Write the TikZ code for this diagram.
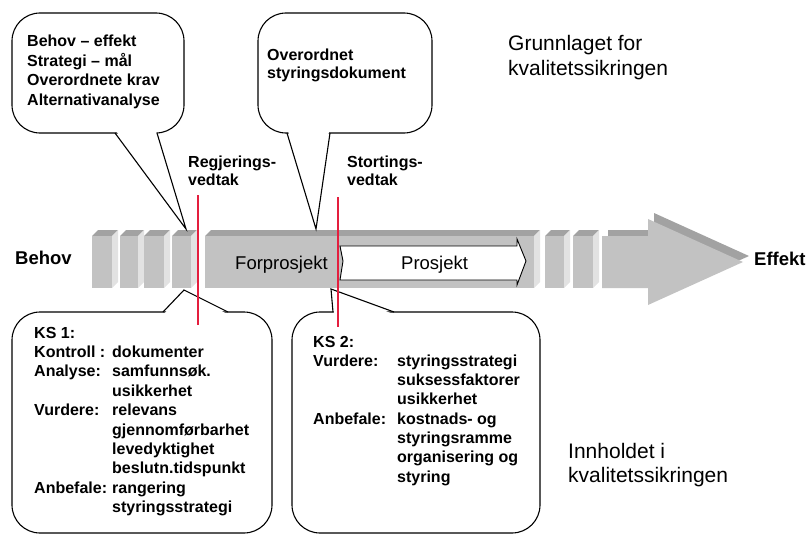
\documentclass[tikz,border=0pt]{standalone}
\usepackage{fontspec}
\setmainfont{Liberation Sans}
\definecolor{barfront}{RGB}{194,194,194}
\definecolor{bartop}{RGB}{162,162,162}
\definecolor{barside}{RGB}{226,226,226}
\definecolor{decision}{RGB}{228,30,62}
\begin{document}
\begin{tikzpicture}[x=1pt,y=-1pt,
  txt/.style={inner sep=0pt, anchor=base west, align=left},
  boldtxt/.style={txt, font=\fontsize{16}{19.4}\selectfont\bfseries},
  bigtxt/.style={txt, font=\fontsize{21}{24.5}\selectfont},
  endtxt/.style={txt, font=\fontsize{18.5}{22}\selectfont\bfseries},
  phasetxt/.style={txt, font=\fontsize{18.5}{22}\selectfont},
  bubble/.style={draw=black, line width=1.1pt, fill=white, rounded corners=28pt},
  tail/.style={draw=black, line width=1.1pt, line join=miter},
  milestone/.style={draw=decision, line width=2.6pt},
]
\useasboundingbox (0,0) rectangle (808,535);

% ---------- timeline: stacked 3D blocks ----------
\foreach \a/\b in {92/112,120/138,144/164,172/191,545/564,573/593,205/534}{
  \fill[bartop]  (\a,236) -- (\a+6,230) -- (\b+6,230) -- (\b,236) -- cycle;
  \fill[barside] (\b,236) -- (\b+6,230) -- (\b+6,282) -- (\b,288) -- cycle;
  \fill[barfront] (\a,236) rectangle (\b,288);
}

% ---------- final arrow towards "Effekt" ----------
\fill[bartop, shift={(6,-6)}]
  (602,236) -- (648,236) -- (648,219) -- (743,262) -- (648,305) -- (648,288) -- (602,288) -- cycle;
\fill[barfront]
  (602,236) -- (648,236) -- (648,219) -- (743,262) -- (648,305) -- (648,288) -- (602,288) -- cycle;

% ---------- project phase arrow ----------
\draw[fill=white, line width=0.9pt, line join=miter]
  (340,246) -- (517,246) -- (517,239) -- (526,261) -- (517,285) -- (517,280) -- (340,280) -- (343,261) -- cycle;
\node[phasetxt] (forprosjekt) at (235,269) {Forprosjekt};
\node[phasetxt] (prosjekt) at (401,269) {Prosjekt};

% ---------- end labels ----------
\node[endtxt] (behov) at (15,264) {Behov};
\node[endtxt] (effekt) at (754,265) {Effekt};

% ---------- callout tips ----------
\coordinate (tipA) at (186,229);
\coordinate (tipB) at (316,229);
\coordinate (tipC) at (184,290);
\coordinate (tipD) at (331,289);

% ---------- callout: basis (top left) ----------
\draw[bubble] (12,13) rectangle (184,133);
\fill[white] (116,131) -- (tipA) -- (156,131) -- cycle;
\draw[tail] (115,133) -- (tipA) -- (157,133);
\node[boldtxt] (basis) at (27,47)
  {\begin{tabular}[t]{@{}l@{}}Behov – effekt\\ Strategi – mål\\ Overordnete krav\\ Alternativanalyse\end{tabular}};

% ---------- callout: steering document (top middle) ----------
\draw[bubble] (258,13) rectangle (432,133);
\fill[white] (288,131) -- (tipB) -- (329,131) -- cycle;
\draw[tail] (287,133) -- (tipB) -- (330,133);
\node[boldtxt, font=\fontsize{16}{18.6}\selectfont\bfseries] (styring) at (267,60)
  {\begin{tabular}[t]{@{}l@{}}Overordnet\\ styringsdokument\end{tabular}};

% ---------- callout: KS 1 ----------
\draw[bubble] (12,312) rectangle (272,533);
\fill[white] (164,314) -- (tipC) -- (227,314) -- cycle;
\draw[tail] (163,312) -- (tipC) -- (228,312);
\node[boldtxt] (ks1) at (34,338)
  {\begin{tabular}[t]{@{}p{78pt}@{}l@{}}
   KS 1: & \\
   Kontroll : & dokumenter\\
   Analyse: & samfunnsøk.\\
            & usikkerhet\\
   Vurdere: & relevans\\
            & gjennomførbarhet\\
            & levedyktighet\\
            & beslutn.tidspunkt\\
   Anbefale: & rangering\\
             & styringsstrategi
   \end{tabular}};

% ---------- callout: KS 2 ----------
\draw[bubble] (292,312) rectangle (540,533);
\fill[white] (334,314) -- (tipD) -- (393,314) -- cycle;
\draw[tail] (333,312) -- (tipD) -- (394,312);
\node[boldtxt, font=\fontsize{16}{19.3}\selectfont\bfseries] (ks2) at (313,347)
  {\begin{tabular}[t]{@{}p{84pt}@{}l@{}}
   KS 2: & \\
   Vurdere: & styringsstrategi\\
            & suksessfaktorer\\
            & usikkerhet\\
   Anbefale: & kostnads- og\\
             & styringsramme\\
             & organisering og\\
             & styring
   \end{tabular}};

% ---------- decision milestones ----------
\coordinate (regTop) at (198,195);
\coordinate (regBot) at (198,325);
\coordinate (stoTop) at (338,197);
\coordinate (stoBot) at (338,327);
\draw[milestone] (regTop) -- (regBot);
\draw[milestone] (stoTop) -- (stoBot);
\node[boldtxt, font=\fontsize{16}{18.5}\selectfont\bfseries] (regjering) at (188,167)
  {\begin{tabular}[t]{@{}l@{}}Regjerings-\\ vedtak\end{tabular}};
\node[boldtxt, font=\fontsize{16}{18.5}\selectfont\bfseries] (storting) at (347,167)
  {\begin{tabular}[t]{@{}l@{}}Stortings-\\ vedtak\end{tabular}};

% ---------- headings ----------
\node[bigtxt] (grunnlag) at (508,51)
  {\begin{tabular}[t]{@{}l@{}}Grunnlaget for\\ kvalitetssikringen\end{tabular}};
\node[bigtxt] (innhold) at (568,458)
  {\begin{tabular}[t]{@{}l@{}}Innholdet i\\ kvalitetssikringen\end{tabular}};
\end{tikzpicture}
\end{document}
